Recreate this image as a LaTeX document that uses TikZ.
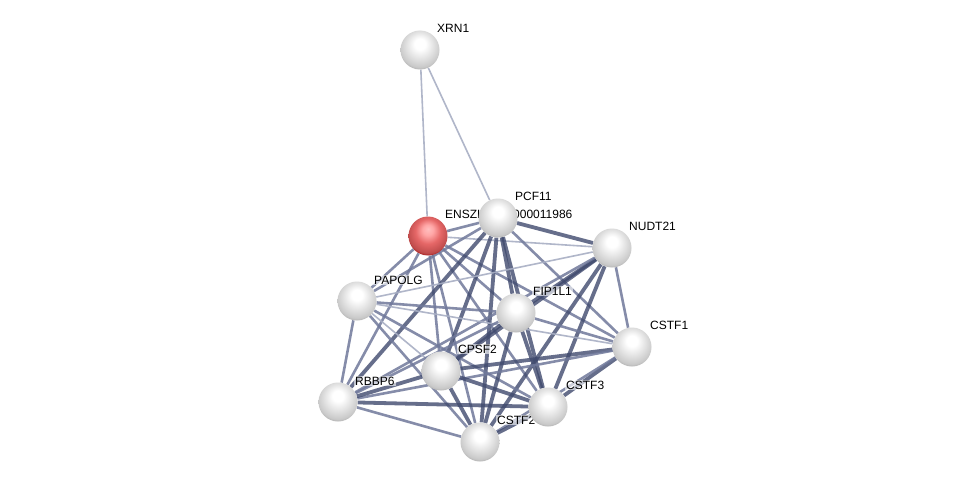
\documentclass[tikz,border=0pt]{standalone}
\usepackage{fontspec}
\setmainfont{Liberation Sans}
\definecolor{edk}{RGB}{64,74,110}
\definecolor{emd}{RGB}{112,121,155}
\definecolor{elt}{RGB}{168,175,196}
\pgfdeclareradialshading{sph}{\pgfpoint{0bp}{9bp}}{color(0bp)=(white); color(7bp)=(white); color(16bp)=(gray!20); color(26bp)=(gray!42); color(31bp)=(gray!70); color(34bp)=(gray!70); color(50bp)=(gray!70)}
\pgfdeclareradialshading{sphred}{\pgfpoint{0bp}{9bp}}{color(0bp)=(red!25!white); color(7bp)=(red!35!white); color(16bp)=(red!55!white!90!black); color(26bp)=(red!60!white!75!black); color(31bp)=(red!60!black); color(34bp)=(red!60!black); color(50bp)=(red!60!black)}
\begin{document}
\begin{tikzpicture}[x=1pt,y=-1pt,
  prot/.style={circle,minimum size=39pt,inner sep=0pt,shading=sph},
  qprot/.style={prot,shading=sphred},
  lab/.style={anchor=west,font=\fontsize{12}{14}\selectfont,fill=white,fill opacity=0.6,text opacity=1,inner sep=1pt},
  ea/.style={line width=1.6pt,draw=elt,draw opacity=0.9},
  eb/.style={line width=2.6pt,draw=emd,draw opacity=0.85},
  ec/.style={line width=3.8pt,draw=edk,draw opacity=0.8}]
\pgfdeclarelayer{bg}\pgfdeclarelayer{mid}
\pgfsetlayers{bg,mid,main}
\useasboundingbox (0,0) rectangle (975,487);
\begin{pgfonlayer}{bg}
\fill[white] (0,0) rectangle (975,487);
\end{pgfonlayer}
\node[prot] (XRN) at (420,50) {};
\node[qprot] (ENS) at (428,236) {};
\node[prot] (PCF) at (498,218) {};
\node[prot] (NUD) at (612,248) {};
\node[prot] (PAP) at (357,301) {};
\node[prot] (FIP) at (516,313) {};
\node[prot] (CS1) at (632,347) {};
\node[prot] (CPS) at (441,371) {};
\node[prot] (RBB) at (338,402) {};
\node[prot] (CS3) at (548,407) {};
\node[prot] (CS2) at (480,442) {};
\begin{pgfonlayer}{mid}
\node[lab] (lXRN) at (436,28) {XRN1};
\node[lab] (lPCF) at (514,196) {PCF11};
\node[lab] (lENS) at (444,214) {ENSZLAP00000011986};
\node[lab] (lNUD) at (628,226) {NUDT21};
\node[lab] (lPAP) at (373,280) {PAPOLG};
\node[lab] (lFIP) at (532,291) {FIP1L1};
\node[lab] (lCS1) at (649,325) {CSTF1};
\node[lab] (lCPS) at (457,349) {CPSF2};
\node[lab] (lRBB) at (354,381) {RBBP6};
\node[lab] (lCS3) at (565,385) {CSTF3};
\node[lab] (lCS2) at (496,420) {CSTF2};
\end{pgfonlayer}
\begin{pgfonlayer}{bg}
\draw[ea] (XRN) -- (ENS);
\draw[ea] (XRN) -- (PCF);
\draw[eb] (ENS) -- (PCF);
\draw[ea] (ENS) -- (NUD);
\draw[eb] (ENS) -- (PAP);
\draw[eb] (ENS) -- (FIP);
\draw[eb] (ENS) -- (CS1);
\draw[eb] (ENS) -- (CPS);
\draw[eb] (ENS) -- (RBB);
\draw[eb] (ENS) -- (CS3);
\draw[eb] (ENS) -- (CS2);
\draw[ec] (PCF) -- (NUD);
\draw[eb] (PCF) -- (PAP);
\draw[ec] (PCF) -- (FIP);
\draw[eb] (PCF) -- (CS1);
\draw[ec] (PCF) -- (CPS);
\draw[ec] (PCF) -- (RBB);
\draw[ec] (PCF) -- (CS3);
\draw[ec] (PCF) -- (CS2);
\draw[ea] (NUD) -- (PAP);
\draw[ec] (NUD) -- (FIP);
\draw[eb] (NUD) -- (CS1);
\draw[ec] (NUD) -- (CPS);
\draw[eb] (NUD) -- (RBB);
\draw[ec] (NUD) -- (CS3);
\draw[ec] (NUD) -- (CS2);
\draw[eb] (PAP) -- (FIP);
\draw[ea] (PAP) -- (CS1);
\draw[ea] (PAP) -- (CPS);
\draw[eb] (PAP) -- (RBB);
\draw[eb] (PAP) -- (CS3);
\draw[eb] (PAP) -- (CS2);
\draw[eb] (FIP) -- (CS1);
\draw[ec] (FIP) -- (CPS);
\draw[eb] (FIP) -- (RBB);
\draw[ec] (FIP) -- (CS3);
\draw[ec] (FIP) -- (CS2);
\draw[ec] (CS1) -- (CPS);
\draw[ec] (CS1) -- (CS3);
\draw[eb] (CS1) -- (CS2);
\draw[eb] (CS1) -- (RBB);
\draw[ec] (CPS) -- (RBB);
\draw[ec] (CPS) -- (CS3);
\draw[ec] (CPS) -- (CS2);
\draw[ec] (RBB) -- (CS3);
\draw[eb] (RBB) -- (CS2);
\draw[ec] (CS3) -- (CS2);
\end{pgfonlayer}
\end{tikzpicture}
\end{document}
